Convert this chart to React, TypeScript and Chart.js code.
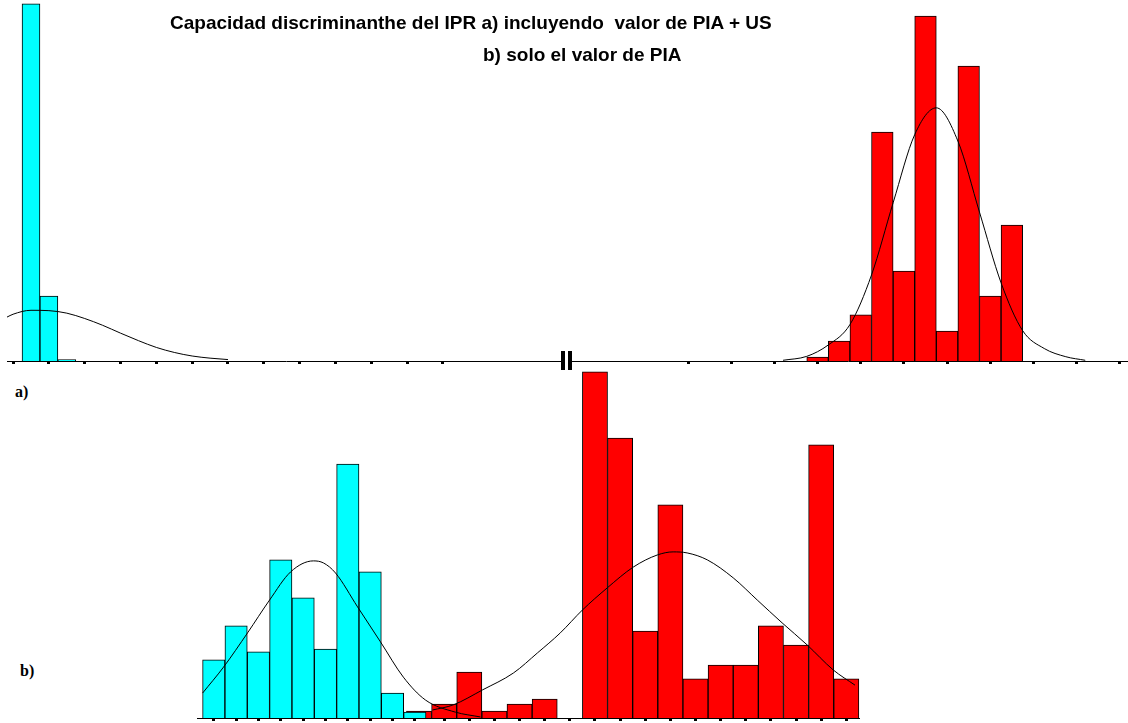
import React, { useEffect, useRef } from "react";
import { Chart, registerables } from "chart.js";

Chart.register(...registerables);

// ---------------- Texts ----------------
const TITLE_LINE_1 = "Capacidad discriminanthe del IPR a) incluyendo  valor de PIA + US";
const TITLE_LINE_2 = "b) solo el valor de PIA";
const LABEL_A = "a)";
const LABEL_B = "b)";

// ---------------- Panel a) : left part (cyan group) ----------------
const A_LEFT_TICKS = [0, 1, 2, 3, 4, 5, 6, 7, 8, 9, 10, 11, 12];
const A_CYAN_BINS = [0.5, 1.0, 1.5];
const A_CYAN_FREQ = [100, 18.2, 0.4];
const A_CYAN_CURVE_X = [-0.17, 0, 0.5, 1, 1.5, 2, 2.5, 3, 3.5, 4, 4.5, 5, 5.5, 6];
const A_CYAN_CURVE_Y = [12.3, 13.1, 14.2, 14.1, 13.4, 11.9, 10.0, 7.8, 5.7, 3.8, 2.4, 1.4, 0.8, 0.4];

// ---------------- Panel a) : right part (red group) ----------------
const A_RIGHT_TICKS = [0, 1, 2, 3, 4, 5, 6, 7, 8, 9, 10];
const A_RED_BINS = [3.0, 3.5, 4.0, 4.5, 5.0, 5.5, 6.0, 6.5, 7.0, 7.5];
const A_RED_FREQ = [1.1, 5.6, 12.9, 64.1, 25.2, 96.6, 8.4, 82.6, 18.2, 38.1];
const A_RED_CURVE_X = [2.2, 2.75, 3.25, 3.75, 4.25, 4.75, 5.25, 5.75, 6.25, 6.75, 7.25, 7.75, 8.25, 8.75, 9.2];
const A_RED_CURVE_Y = [0.2, 1.3, 4.5, 10.2, 24.1, 44.3, 63.4, 70.9, 61.6, 41.7, 21.9, 8.5, 3.5, 1.2, 0.2];

// ---------------- Panel b) ----------------
const B_CYAN_BINS = [0.4, 1.2, 2.0, 2.8, 3.6, 4.4, 5.2, 6.0, 6.8, 7.6];
const B_CYAN_FREQ = [16.8, 26.6, 19.1, 45.7, 34.7, 19.9, 73.4, 42.2, 7.2, 1.7];
const B_RED_BINS = [
  7.75, 8.65, 9.55, 10.45, 11.35, 12.25, 13.15, 14.05, 14.95,
  15.85, 16.75, 17.65, 18.55, 19.45, 20.35, 21.25, 22.15, 23.05,
];
const B_RED_FREQ = [2.0, 4.0, 13.3, 2.0, 4.0, 5.5, 0, 100, 80.9, 25.1, 61.6, 11.3, 15.3, 15.3, 26.6, 21.1, 78.9, 11.3];
const B_CYAN_CURVE_X = [0, 0.75, 1.61, 2.4, 3.15, 3.97, 4.33, 4.76, 5.55, 6.37, 7.19, 7.98, 9.05, 9.95];
const B_CYAN_CURVE_Y = [7.2, 14.7, 24.6, 34.1, 42.2, 45.4, 44.8, 41.9, 32.1, 22.0, 11.8, 5.2, 1.7, 0.3];
const B_RED_CURVE_X = [
  8.23, 8.98, 10.02, 11.13, 11.99, 12.81, 13.6, 14.49, 15.42, 16.28,
  16.85, 17.35, 18.07, 19.0, 19.86, 20.75, 21.65, 22.58, 23.36,
];
const B_RED_CURVE_Y = [
  2.3, 3.8, 8.1, 13.0, 18.8, 24.6, 31.2, 37.6, 43.6, 47.1,
  48.0, 47.7, 45.7, 40.5, 34.1, 27.5, 21.1, 13.9, 9.5,
];
const B_TICKS = [...B_CYAN_BINS, ...B_RED_BINS.slice(1)];

// ---------------- Helpers ----------------
const CYAN = "#00FFFF";
const RED = "#FF0000";

const toPoints = (xs: number[], ys: number[]) => xs.map((x, i) => ({ x, y: ys[i] }));

function barSet(xs: number[], ys: number[], color: string, axis: string, order: number) {
  return {
    type: "bar",
    data: toPoints(xs, ys),
    backgroundColor: color,
    borderColor: "#000",
    borderWidth: 1,
    barPercentage: 1,
    categoryPercentage: 1,
    grouped: false,
    xAxisID: axis,
    order,
  };
}

function curveSet(xs: number[], ys: number[], axis: string) {
  return {
    type: "line",
    data: toPoints(xs, ys),
    borderColor: "#000",
    borderWidth: 1,
    pointRadius: 0,
    fill: false,
    tension: 0.4,
    cubicInterpolationMode: "monotone",
    xAxisID: axis,
    order: 0,
  };
}

function visibleAxis(min: number, max: number, ticks: number[]) {
  return {
    type: "linear",
    position: "bottom",
    min,
    max,
    offset: false,
    afterBuildTicks: (s: any) => {
      s.ticks = ticks.map((v) => ({ value: v }));
    },
    ticks: { display: false },
    grid: {
      display: true,
      offset: false,
      drawOnChartArea: false,
      drawTicks: true,
      tickLength: 3,
      tickWidth: 3,
      tickColor: "#000",
    },
    border: { display: true, color: "#000", width: 1 },
  };
}

function hiddenAxis(min: number, max: number) {
  return {
    type: "linear",
    display: false,
    min,
    max,
    offset: false,
    afterBuildTicks: (s: any) => {
      s.ticks = [];
    },
  };
}

const breakMark = {
  id: "breakMark",
  afterDraw(chart: any, _args: any, opts: any) {
    if (!opts || !opts.side) return;
    const { ctx, chartArea } = chart;
    const x = opts.side === "right" ? chartArea.right - 4 : chartArea.left;
    ctx.save();
    ctx.fillStyle = "#000";
    ctx.fillRect(x, chartArea.bottom - 10, 4, 19);
    ctx.restore();
  },
};

function baseOptions(scales: any, padBottom: number, side?: string) {
  return {
    responsive: false,
    maintainAspectRatio: false,
    animation: false,
    events: [],
    layout: { padding: { left: 0, right: 0, top: 0, bottom: padBottom } },
    plugins: {
      legend: { display: false },
      tooltip: { enabled: false },
      title: { display: false },
      breakMark: { side },
    },
    scales,
  };
}

const Y_MAX_TOP = 101.1;
const Y_MAX_BOTTOM = 102.0;

function makeTopLeft() {
  return {
    type: "line",
    data: {
      datasets: [
        curveSet(A_CYAN_CURVE_X, A_CYAN_CURVE_Y, "x"),
        barSet(A_CYAN_BINS, A_CYAN_FREQ, CYAN, "x", 1),
      ],
    },
    options: baseOptions(
      {
        x: visibleAxis(-0.17, 15.41, A_LEFT_TICKS),
        y: { type: "linear", display: false, min: 0, max: Y_MAX_TOP },
      },
      9,
      "right"
    ),
    plugins: [breakMark],
  };
}

function makeTopRight() {
  return {
    type: "line",
    data: {
      datasets: [
        curveSet(A_RED_CURVE_X, A_RED_CURVE_Y, "x"),
        barSet(A_RED_BINS, A_RED_FREQ, RED, "x", 1),
      ],
    },
    options: baseOptions(
      {
        x: visibleAxis(-2.78, 10.19, A_RIGHT_TICKS),
        y: { type: "linear", display: false, min: 0, max: Y_MAX_TOP },
      },
      9,
      "left"
    ),
    plugins: [breakMark],
  };
}

function makeBottom() {
  const min = -0.2;
  const max = 23.54;
  return {
    type: "line",
    data: {
      datasets: [
        curveSet(B_CYAN_CURVE_X, B_CYAN_CURVE_Y, "x"),
        curveSet(B_RED_CURVE_X, B_RED_CURVE_Y, "x"),
        barSet(B_CYAN_BINS, B_CYAN_FREQ, CYAN, "xc", 1),
        barSet(B_RED_BINS, B_RED_FREQ, RED, "xr", 2),
      ],
    },
    options: baseOptions(
      {
        x: visibleAxis(min, max, B_TICKS),
        xc: hiddenAxis(min, max),
        xr: hiddenAxis(min, max),
        y: { type: "linear", display: false, min: 0, max: Y_MAX_BOTTOM },
      },
      0
    ),
    plugins: [breakMark],
  };
}

function ChartBox(props: { make: () => any; left: number; top: number; w: number; h: number }) {
  const ref = useRef<HTMLCanvasElement>(null);
  useEffect(() => {
    const chart = new Chart(ref.current as HTMLCanvasElement, props.make() as any);
    return () => chart.destroy();
  }, []);
  return (
    <canvas
      ref={ref}
      width={props.w}
      height={props.h}
      style={{ position: "absolute", left: props.left, top: props.top, width: props.w, height: props.h }}
    />
  );
}

const titleStyle: React.CSSProperties = {
  position: "absolute",
  fontFamily: "'Liberation Sans', Arial, sans-serif",
  fontWeight: "bold",
  fontSize: 19,
  lineHeight: "19px",
  whiteSpace: "pre",
  color: "#000",
};

const labelStyle: React.CSSProperties = {
  position: "absolute",
  fontFamily: "'Liberation Serif', 'Times New Roman', serif",
  fontWeight: "bold",
  fontSize: 16,
  lineHeight: "16px",
  whiteSpace: "pre",
  color: "#000",
};

export default function App() {
  return (
    <div style={{ position: "absolute", left: 0, top: 0, width: 1128, height: 723, background: "#fff" }}>
      <ChartBox make={makeTopLeft} left={7} top={0} w={558} h={373} />
      <ChartBox make={makeTopRight} left={568} top={0} w={560} h={373} />
      <ChartBox make={makeBottom} left={197} top={365} w={663} h={356} />
      <div style={{ ...titleStyle, left: 170, top: 13 }}>{TITLE_LINE_1}</div>
      <div style={{ ...titleStyle, left: 483, top: 45 }}>{TITLE_LINE_2}</div>
      <div style={{ ...labelStyle, left: 15, top: 384 }}>{LABEL_A}</div>
      <div style={{ ...labelStyle, left: 20, top: 663 }}>{LABEL_B}</div>
    </div>
  );
}
